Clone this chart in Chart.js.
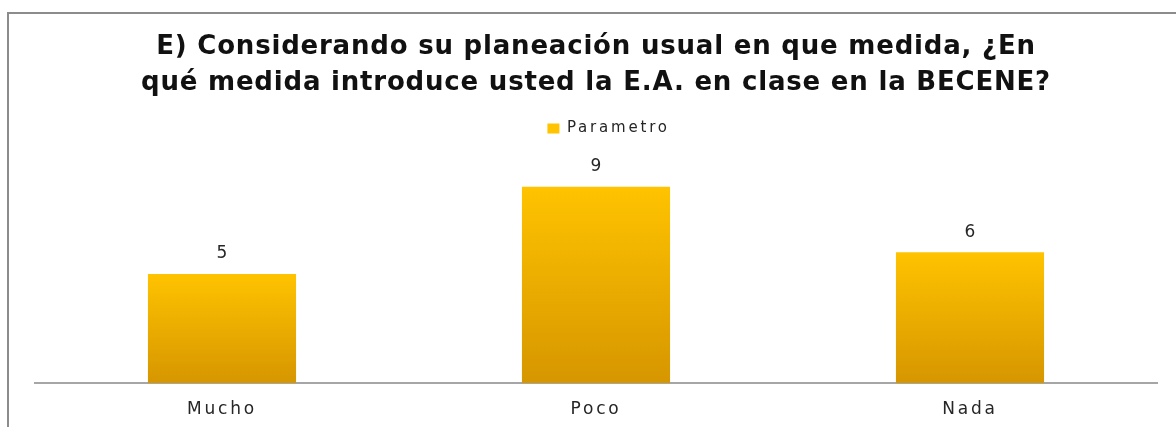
<!DOCTYPE html>
<html>
<head>
<meta charset="utf-8">
<script src="https://cdn.jsdelivr.net/npm/chart.js@4.4.1/dist/chart.umd.min.js"></script>
<style>
  html, body { margin: 0; padding: 0; background: #fff; }
  #wrap { width: 1176px; height: 427px; }
</style>
</head>
<body>
<div id="wrap"><canvas id="chart" width="1176" height="427"></canvas></div>
<script>
const titleLines = ['E) Considerando su planeación usual en que medida, ¿En', 'qué medida introduce usted la E.A. en clase en la BECENE?'];
const categories = ['Mucho', 'Poco', 'Nada'];
const seriesName = 'Parametro';
const values = [5, 9, 6];
const yMax = 10;

// outer frame like the original picture (left + top edge)
const framePlugin = {
    id: 'frame',
    beforeDraw(chart) {
        const c = chart.ctx;
        c.save();
        c.strokeStyle = '#8c8c8c';
        c.lineWidth = 2;
        c.beginPath();
        c.moveTo(8, chart.height);
        c.lineTo(8, 13);
        c.lineTo(chart.width, 13);
        c.stroke();
        c.restore();
        // the original labels are drawn wide
        c.letterSpacing = '2.8px';
    }
};

// value labels above the bars
const valueLabels = {
    id: 'valueLabels',
    afterDatasetsDraw(chart) {
        const c = chart.ctx;
        const meta = chart.getDatasetMeta(0);
        c.save();
        c.letterSpacing = '0px';
        c.font = '17px "DejaVu Sans"';
        c.fillStyle = '#262626';
        c.textAlign = 'center';
        c.textBaseline = 'middle';
        meta.data.forEach((bar, i) => {
            c.fillText(String(values[i]), bar.x, bar.y - 20);
        });
        c.restore();
    }
};

// extra room below the legend, title with its own spacing
const tweaks = {
    id: 'tweaks',
    beforeInit(chart) {
        const fit = chart.legend.fit;
        chart.legend.fit = function () {
            fit.bind(chart.legend)();
            this.height += 19;
        };
        const drawTitle = chart.titleBlock.draw;
        chart.titleBlock.draw = function () {
            const c = this.ctx;
            const old = c.letterSpacing;
            c.letterSpacing = '0.8px';
            drawTitle.call(this);
            c.letterSpacing = old;
        };
    }
};

const barFill = (ctx) => {
    if (ctx.type !== 'data' || !ctx.chart.chartArea) return '#F2B300';
    const y = ctx.chart.scales.y;
    const top = y.getPixelForValue(ctx.raw);
    const bottom = y.getPixelForValue(0);
    const g = ctx.chart.ctx.createLinearGradient(0, top, 0, bottom);
    g.addColorStop(0, '#FFC300');
    g.addColorStop(1, '#D69600');
    return g;
};

new Chart(document.getElementById('chart'), {
    type: 'bar',
    data: {
        labels: categories,
        datasets: [{
            label: seriesName,
            data: values,
            backgroundColor: barFill,
            borderWidth: 0,
            barPercentage: 0.4,
            categoryPercentage: 0.99
        }]
    },
    options: {
        responsive: false,
        animation: false,
        devicePixelRatio: 1,
        layout: { padding: { left: 35, right: 19, top: 14, bottom: 8 } },
        plugins: {
            title: {
                display: true,
                text: titleLines,
                color: '#111111',
                font: { family: '"DejaVu Sans"', size: 26, weight: 'bold', lineHeight: 36 / 26 },
                padding: { top: 15, bottom: 10 }
            },
            legend: {
                display: true,
                labels: {
                    boxWidth: 12,
                    boxHeight: 10,
                    color: '#262626',
                    font: { family: '"DejaVu Sans"', size: 15 },
                    padding: 10
                }
            },
            tooltip: { enabled: false }
        },
        scales: {
            x: {
                grid: { display: false, drawTicks: false },
                border: { display: true, color: '#a6a6a6', width: 2 },
                ticks: {
                    color: '#262626',
                    font: { family: '"DejaVu Sans"', size: 17 },
                    padding: 16
                },
                afterFit(scale) {
                    scale.height = 36;
                }
            },
            y: {
                display: false,
                min: 0,
                max: yMax
            }
        }
    },
    plugins: [framePlugin, valueLabels, tweaks]
});
</script>
</body>
</html>
